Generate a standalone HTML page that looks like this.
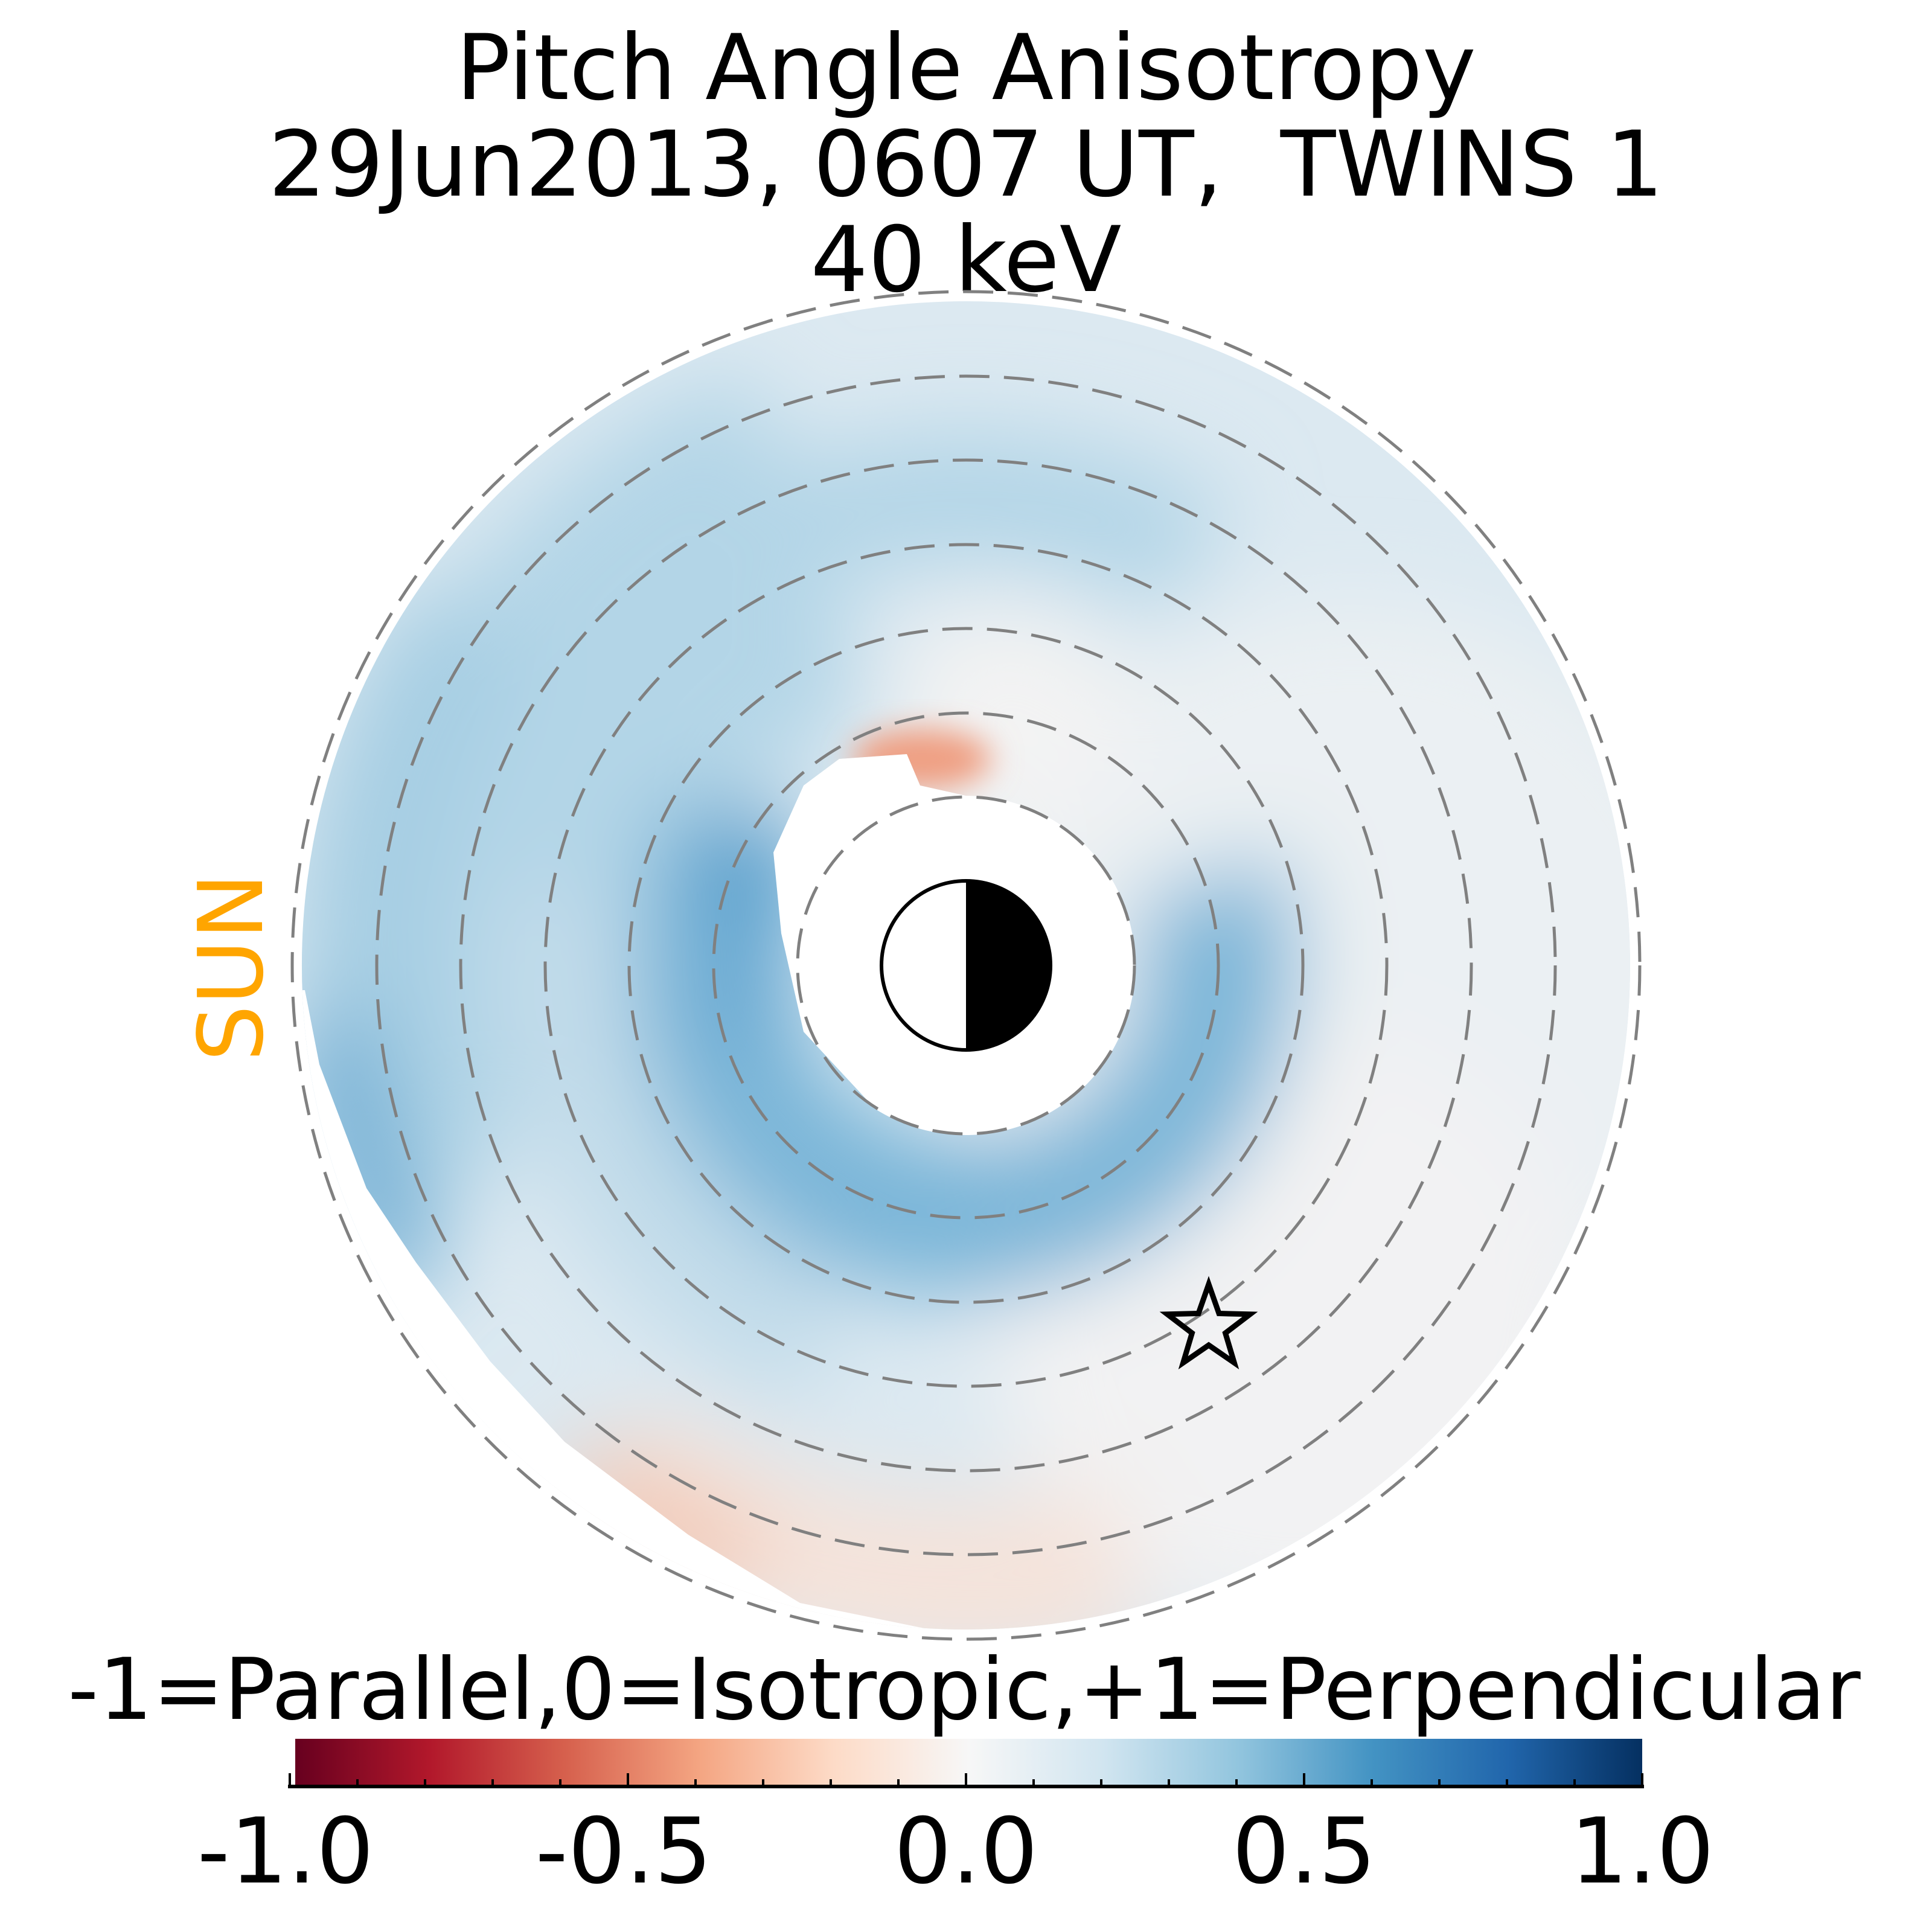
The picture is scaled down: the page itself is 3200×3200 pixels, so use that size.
<!DOCTYPE html>
<html><head><meta charset="utf-8"><style>
html,body{margin:0;padding:0;background:#fff;}
svg{display:block;}
text{font-family:"DejaVu Sans","Liberation Sans",sans-serif;}
</style></head><body>
<svg width="3200" height="3200" viewBox="0 0 3200 3200" xmlns="http://www.w3.org/2000/svg">
<defs>
<filter id="b" x="-50%" y="-50%" width="200%" height="200%"><feGaussianBlur stdDeviation="75"/></filter>
<filter id="b2" x="-50%" y="-50%" width="200%" height="200%"><feGaussianBlur stdDeviation="25"/></filter>
<clipPath id="ann"><path clip-rule="evenodd" d="M1608,500 A1100,1100 0 1 1 1607.9,500 Z M1608,1319 A281,281 0 1 1 1458,1838 L1339,1710 L1302,1547 L1289,1413 L1339,1302 L1398,1258 L1510,1250 L1532,1302 Z"/></clipPath>
<linearGradient id="cb" x1="0" x2="1" y1="0" y2="0">
<stop offset="0" stop-color="#67001f"/><stop offset="0.1" stop-color="#b2182b"/><stop offset="0.2" stop-color="#d6604d"/><stop offset="0.3" stop-color="#f4a582"/><stop offset="0.4" stop-color="#fddbc7"/><stop offset="0.5" stop-color="#f7f7f7"/><stop offset="0.6" stop-color="#d1e5f0"/><stop offset="0.7" stop-color="#92c5de"/><stop offset="0.8" stop-color="#4393c3"/><stop offset="0.9" stop-color="#2166ac"/><stop offset="1" stop-color="#053061"/>
</linearGradient>
</defs>
<g text-anchor="middle" font-size="150" fill="#000">
<text x="1600" y="164">Pitch Angle Anisotropy</text>
<text x="1600" y="324">29Jun2013, 0607 UT,&#160; TWINS 1</text>
<text x="1600" y="482">40 keV</text>
</g>
<text x="0" y="0" font-size="148" fill="#ffa500" text-anchor="middle" transform="translate(434,1602) rotate(-90)">SUN</text>
<g transform="translate(-8,-1)">
<g clip-path="url(#ann)">
<rect x="400" y="400" width="2500" height="2500" fill="#dce9f1"/>
<g filter="url(#b)" fill="none">
<circle cx="2250" cy="1650" r="650" fill="#ebf0f3"/>
<circle cx="2150" cy="2200" r="500" fill="#f2f2f3"/>
<circle cx="1608" cy="1600" r="1018" stroke="#f5e3da" stroke-width="260" pathLength="360" stroke-dasharray="50 360" transform="rotate(75 1608 1600)"/>
<circle cx="1608" cy="1600" r="1060" stroke="#f3c3ad" stroke-width="130" pathLength="360" stroke-dasharray="18 360" transform="rotate(110 1608 1600)"/>
<circle cx="1608" cy="1600" r="750" stroke="#b3d5e7" stroke-width="600" pathLength="360" stroke-dasharray="90 360" transform="rotate(160 1608 1600)"/>
<circle cx="1608" cy="1600" r="640" stroke="#c2dcea" stroke-width="280" pathLength="360" stroke-dasharray="80 360" transform="rotate(110 1608 1600)"/>
<circle cx="1608" cy="1600" r="990" stroke="#a6cee3" stroke-width="240" pathLength="360" stroke-dasharray="60 360" transform="rotate(155 1608 1600)"/>
<circle cx="1608" cy="1600" r="1060" stroke="#5fa6d0" stroke-width="120" pathLength="360" stroke-dasharray="25 360" transform="rotate(150 1608 1600)"/>
<circle cx="1608" cy="1600" r="775" stroke="#b3d5e7" stroke-width="220" pathLength="360" stroke-dasharray="100 360" transform="rotate(200 1608 1600)"/>
<circle cx="1608" cy="1600" r="420" stroke="#79b5d8" stroke-width="260" pathLength="360" stroke-dasharray="230 360" transform="rotate(-20 1608 1600)"/>
<circle cx="1608" cy="1600" r="360" stroke="#5fa3cf" stroke-width="120" pathLength="360" stroke-dasharray="55 360" transform="rotate(160 1608 1600)"/>
<circle cx="1240" cy="1420" r="80" fill="#4a97c8"/>
<circle cx="1680" cy="1200" r="200" fill="#f3f3f3"/>
</g>
<ellipse cx="1535" cy="1258" rx="115" ry="50" fill="#ef9f82" filter="url(#b2)"/>
<polygon fill="#fff" points="513,1641 537,1764 615,1969 697,2092 820,2256 943,2389 1148,2543 1333,2656 1608,2712 1608,2900 300,2900 300,1641"/>
</g>
<g fill="none" stroke="#808080" stroke-width="5" stroke-dasharray="50 24">
<circle cx="1608" cy="1600" r="279"/><circle cx="1608" cy="1600" r="418"/><circle cx="1608" cy="1600" r="558"/><circle cx="1608" cy="1600" r="697"/><circle cx="1608" cy="1600" r="837"/><circle cx="1608" cy="1600" r="976"/><circle cx="1608" cy="1600" r="1116"/>
</g>
<path d="M1608,1460 A140,140 0 0 0 1608,1740 Z" fill="#fff"/>
<path d="M1608,1460 A140,140 0 0 1 1608,1740 Z" fill="#000"/>
<circle cx="1608" cy="1600" r="140" fill="none" stroke="#000" stroke-width="6"/>
<polygon fill="none" stroke="#000" stroke-width="9" stroke-linejoin="miter" points="2010,2128 2027,2176.5 2078.5,2177.8 2037.6,2209 2052.3,2258.2 2010,2229 1967.7,2258.2 1982.4,2209 1941.5,2177.8 1993,2176.5"/>
</g>
<text x="1597" y="2847" font-size="141" text-anchor="middle">-1=Parallel,0=Isotropic,+1=Perpendicular</text>
<rect x="489" y="2880" width="2231" height="79" fill="url(#cb)"/>
<line x1="477" y1="2959" x2="2723" y2="2959" stroke="#000" stroke-width="6"/>
<g stroke="#000" stroke-width="4">
<line x1="480" y1="2937" x2="480" y2="2959"/><line x1="1040" y1="2937" x2="1040" y2="2959"/><line x1="1600" y1="2937" x2="1600" y2="2959"/><line x1="2160" y1="2937" x2="2160" y2="2959"/><line x1="2720" y1="2937" x2="2720" y2="2959"/>
<line x1="592" y1="2947" x2="592" y2="2959"/><line x1="704" y1="2947" x2="704" y2="2959"/><line x1="816" y1="2947" x2="816" y2="2959"/><line x1="928" y1="2947" x2="928" y2="2959"/>
<line x1="1152" y1="2947" x2="1152" y2="2959"/><line x1="1264" y1="2947" x2="1264" y2="2959"/><line x1="1376" y1="2947" x2="1376" y2="2959"/><line x1="1488" y1="2947" x2="1488" y2="2959"/>
<line x1="1712" y1="2947" x2="1712" y2="2959"/><line x1="1824" y1="2947" x2="1824" y2="2959"/><line x1="1936" y1="2947" x2="1936" y2="2959"/><line x1="2048" y1="2947" x2="2048" y2="2959"/>
<line x1="2272" y1="2947" x2="2272" y2="2959"/><line x1="2384" y1="2947" x2="2384" y2="2959"/><line x1="2496" y1="2947" x2="2496" y2="2959"/><line x1="2608" y1="2947" x2="2608" y2="2959"/>
</g>
<g font-size="150" text-anchor="middle">
<text x="473" y="3118">-1.0</text><text x="1033" y="3118">-0.5</text><text x="1600" y="3118">0.0</text><text x="2160" y="3118">0.5</text><text x="2720" y="3118">1.0</text>
</g>
</svg>
</body></html>
